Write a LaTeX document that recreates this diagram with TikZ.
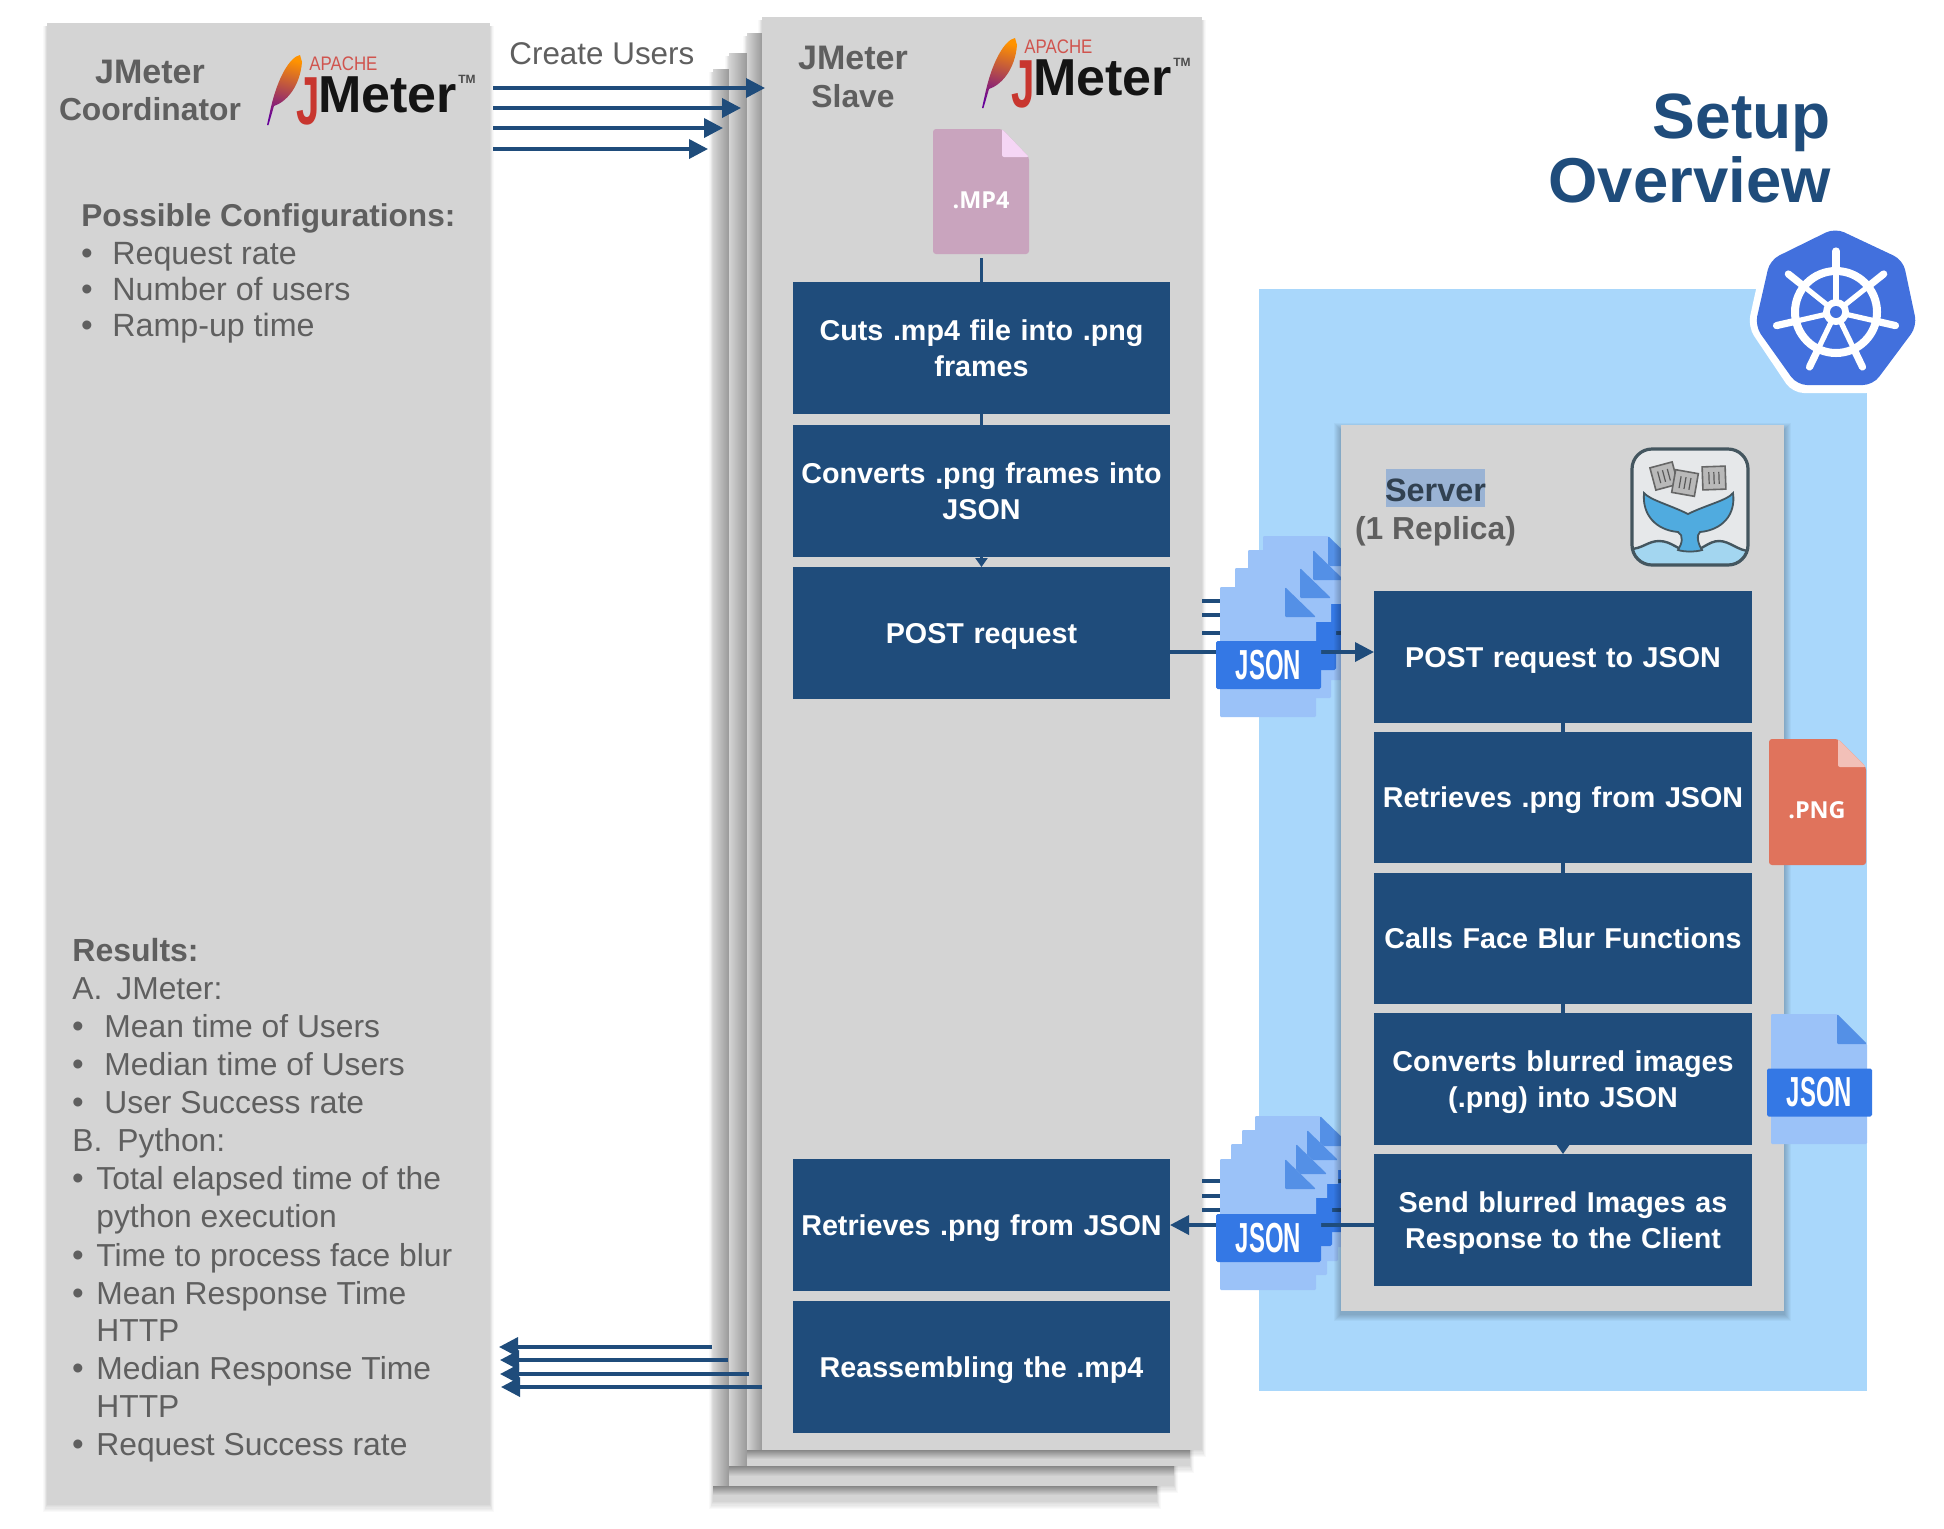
\documentclass[tikz,border=0pt]{standalone}
\usepackage{fontspec}
\setmainfont{Liberation Sans}
\newfontfamily\opensans{Open Sans}
\usetikzlibrary{arrows.meta,calc}
\definecolor{panelc}{HTML}{D4D4D4}
\definecolor{navy}{HTML}{1F4C7B}
\definecolor{skyc}{HTML}{A9D7FB}
\definecolor{txtc}{HTML}{5F5F5F}
\definecolor{pagec}{HTML}{9BC2F8}
\definecolor{foldc}{HTML}{5490E6}
\definecolor{badgec}{HTML}{3478E5}
\definecolor{k8sc}{HTML}{4270DD}
\definecolor{redc}{HTML}{C8362F}
\definecolor{mpc}{HTML}{C9A4BE}
\definecolor{mpf}{HTML}{F5D6F5}
\definecolor{pngc}{HTML}{E0735C}
\definecolor{pngf}{HTML}{F2C0B8}
\definecolor{dockl}{HTML}{44565F}
\definecolor{dockb}{HTML}{E6E8EA}
\definecolor{dockt}{HTML}{50ABDF}
\definecolor{dockw}{HTML}{A3D6F0}
\definecolor{hilite}{HTML}{9AB3D4}
\newcommand{\fsz}[1]{\fontsize{#1}{#1}\selectfont}
\newcommand{\sg}[1]{\raisebox{-5.2pt}[0pt][0pt]{#1}}
\newcommand{\db}[2]{\makebox[0pt]{\raisebox{4pt}[0pt][0pt]{#1}}\makebox[0pt]{\raisebox{-14pt}[0pt][0pt]{#2}}}
\tikzset{
  x=0.5pt,y=-0.5pt,
  panel/.style={fill=panelc,inner sep=0pt,outer sep=0pt},
  flowbox/.style={fill=navy,text=white,inner sep=0pt,outer sep=0pt,align=center,text width=187pt,
     font=\bfseries\fontsize{14.35}{18}\selectfont},
  conn/.style={draw=navy,line width=1.8pt},
  arr/.style={conn,-{Triangle[length=9.5pt,width=9.5pt]}},
  smallarr/.style={conn,-{Triangle[length=4.5pt,width=6pt]}},
  lbl/.style={anchor=base west,inner sep=0pt,text=txtc,font=\fsz{15.9},yshift=-0.6pt},
  lblc/.style={lbl,font=\fsz{16.1}},
  lblb/.style={lbl,font=\bfseries\fsz{16}},
  head/.style={anchor=base,inner sep=0pt,text=txtc,font=\bfseries\fsz{17}},
  heads/.style={head,font=\bfseries\fsz{15.9}},
  bul/.style={anchor=base,inner sep=0pt,text=txtc,font=\fsz{16.6},yshift=-0.6pt},
  badge/.style={fill=badgec,rounded corners=0.8pt,inner sep=0pt,outer sep=0pt,minimum width=52.5pt,minimum height=24pt,text=white},
  filelabel/.style={inner sep=0pt,text=white,font=\opensans\bfseries\fsz{11.7}},
  titlet/.style={anchor=base east,inner sep=0pt,text=navy,font=\bfseries\fsz{31.7}},
}
\newcommand{\rnode}[7]{%
  \pgfmathsetmacro{\rw}{(#5-#3)/2}\pgfmathsetmacro{\rh}{(#6-#4)/2}%
  \pgfmathsetmacro{\rcx}{(#3+#5)/2}\pgfmathsetmacro{\rcy}{(#4+#6)/2}%
  \node[#1,minimum width=\rw pt,minimum height=\rh pt] (#2) at (\rcx,\rcy) {#7};}
% shadow on the blue zone
\newcommand{\softshadow}[4]{%
  \foreach \d in {1,...,7}{\fill[black,opacity=0.03] ({#1-\d},{#2-\d+5}) rectangle ({#3+\d},{#4+\d+3});}}
% faint shadow on white
\newcommand{\paleshadow}[4]{%
  \foreach \d in {1,...,6}{\fill[black,opacity=0.022] ({#1-\d*0.6},{#2+3}) rectangle ({#3+\d*0.6},{#4+\d*1.2});}}
% shadow cast on the panel below: x1,y1 = panel top-left, x0 = left edge below, y2 = panel bottom, x2 = right edge below, yb = bottom edge below
\newcommand{\castshadow}[6]{%
  \shade[left color=panelc,right color=black!28!panelc] (#3,#2) rectangle (#1,#4);
  \shade[top color=black!36!panelc,bottom color=panelc] (#3,#4) rectangle (#5,#6);}
% JSON page: origin at top-left of the page; #3 = height
\newcommand{\jsonpage}[3]{%
  \begin{scope}[shift={(#1,#2)}]
    \fill[pagec,rounded corners=0.6pt] (0,0) -- (65,0) -- (96,30) -- (96,#3) -- (0,#3) -- cycle;
    \fill[foldc,rounded corners=0.6pt] (65,0) -- (96,30) -- (65,30) -- cycle;
    \fill[badgec,rounded corners=0.8pt] (-4,54) rectangle (101,102);
  \end{scope}}
\newcommand{\jsonword}{\scalebox{0.57}[1]{\bfseries\fsz{21}JSON}}
\newcommand{\jlogo}[3]{%
  \begin{scope}[shift={(#1,#2)}]
    \shade[top color=orange!85!yellow,middle color=red!65!black!90,bottom color=violet!80!blue,shading angle=-15]
      (2,-57) .. controls (-8,-55) and (-20,-35) .. (-27,-5) -- (-31,13) -- (-29.5,13) -- (-24,-6)
      .. controls (-12,-10) and (2,-25) .. (4,-50) -- cycle;
    \node[anchor=base west,inner sep=0pt,text=redc!85!white] (#3a) at (11,-42) {\scalebox{0.86}[1]{\fsz{9.8}APACHE}};
    \node[anchor=base west,inner sep=0pt,text=redc] (#3j) at (-2,12) {\scalebox{0.62}[1]{\bfseries\fsz{34}J}};
    \node[anchor=base west,inner sep=0pt,text=black!92] (#3m) at (20,0) {\bfseries\fsz{26}Meter};
    \node[anchor=base west,inner sep=0pt,text=black!70] (#3t) at (160,-29) {\bfseries\fsz{6}TM};
  \end{scope}}
\newcommand{\crate}[3]{%
  \begin{scope}[shift={(#1,#2)},rotate=#3]
    \filldraw[fill=gray!55,draw=black!60,line width=0.8pt] (-11.5,-11.5) rectangle (11.5,11.5);
    \foreach \q in {-5,0,5}{\draw[black!65,line width=0.6pt] (\q,-6) -- (\q,6);}
  \end{scope}}
\begin{document}
\begin{tikzpicture}
\useasboundingbox (0,0) rectangle (1944,1528);
\fill[white] (0,0) rectangle (1944,1528);

% Kubernetes zone
\rnode{fill=skyc,inner sep=0pt,outer sep=0pt}{zone}{1259}{289}{1867}{1391}{}

% Coordinator
\paleshadow{47}{23}{490}{1505}
\rnode{panel}{coord}{47}{23}{490}{1505}{}
\node[head] (jm1) at (150,83) {JMeter};
\node[heads] (jm2) at (150,120) {Coordinator};
\jlogo{298}{112}{la}
\node[lblb,font=\bfseries\fsz{15.8}] (cfg) at (81,225.5) {Possible Configurations:};
\node[bul] (b1) at (87,263) {•}; \node[lblc] (c1) at (112,263) {Request rate};
\node[bul] (b2) at (87,299) {•}; \node[lblc] (c2) at (112,299) {Number of users};
\node[bul] (b3) at (87,335) {•}; \node[lblc] (c3) at (112,335) {Ramp-up time};
\node[lblb] (res) at (72,960) {Results:};
\node[lbl] (ra) at (72,998) {A.}; \node[lbl] (raj) at (116,998) {JMeter:};
\node[bul] (rb1) at (78,1036) {•}; \node[lbl] (r1) at (104,1036) {Mean time of Users};
\node[bul] (rb2) at (78,1074) {•}; \node[lbl] (r2) at (104,1074) {Median time of Users};
\node[bul] (rb3) at (78,1112) {•}; \node[lbl] (r3) at (104,1112) {User Success rate};
\node[lbl] (rbb) at (72,1150) {B.}; \node[lbl] (rbp) at (117,1150) {Python:};
\node[bul] (rb4) at (78,1188) {•}; \node[lbl] (r4) at (96,1188) {Total elapsed time of the};
\node[lbl] (r5) at (96,1226) {python execution};
\node[bul] (rb6) at (78,1265) {•}; \node[lbl] (r6) at (96,1265) {Time to process face blur};
\node[bul] (rb7) at (78,1303) {•}; \node[lbl] (r7) at (96,1303) {Mean Response Time};
\node[lbl] (r8) at (96,1340) {HTTP};
\node[bul] (rb9) at (78,1378) {•}; \node[lbl] (r9) at (96,1378) {Median Response Time};
\node[lbl] (r10) at (96,1416) {HTTP};
\node[bul] (rb11) at (78,1454) {•}; \node[lbl] (r11) at (96,1454) {Request Success rate};
\node[anchor=base west,inner sep=0pt,text=txtc,font=\fsz{15.7}] (create) at (509,64) {Create Users};

% Slave panels, back to front
\paleshadow{713}{69}{1157}{1502}
\rnode{panel}{sl4}{713}{69}{1157}{1502}{}
\paleshadow{729}{53}{1174}{1486}
\castshadow{729}{69}{713}{1486}{1157}{1495}
\rnode{panel}{sl3}{729}{53}{1174}{1486}{}
\paleshadow{747}{33}{1190}{1466}
\castshadow{747}{53}{729}{1466}{1174}{1476}
\rnode{panel}{sl2}{747}{33}{1190}{1466}{}
\paleshadow{762}{17}{1202}{1450}
\castshadow{762}{33}{747}{1450}{1190}{1459}
\rnode{panel}{sl1}{762}{17}{1202}{1450}{}
\node[head] (sj) at (853,69) {JMeter};
\node[heads] (ss) at (853,107) {Slave};
\jlogo{1013}{95}{lb}

% .MP4 file
\fill[mpc,rounded corners=1.5pt] (933,129) -- (1002,129) -- (1029,157) -- (1029,254) -- (933,254) -- cycle;
\fill[mpf,rounded corners=1pt] (1002,129) -- (1029,157) -- (1002,157) -- cycle;
\node[filelabel] (mp4) at (981,200) {.MP4};
\coordinate (mp4end) at (981.5,258);

% slave flow boxes
\rnode{flowbox}{cut}{793}{282}{1170}{414}{\db{Cuts .mp4 file into .png}{frames}}
\rnode{flowbox}{conv}{793}{425}{1170}{557}{\db{Converts .png frames into}{JSON}}
\rnode{flowbox}{post}{793}{567}{1170}{699}{\sg{POST request}}
\rnode{flowbox}{retr}{793}{1159}{1170}{1291}{\sg{Retrieves .png from JSON}}
\rnode{flowbox}{reas}{793}{1301}{1170}{1433}{\sg{Reassembling the .mp4}}
\draw[conn] (mp4end) -- (cut.north);
\draw[conn] (cut.south) -- (conv.north);
\draw[smallarr] (conv.south) -- (post.north);

% coordinates of the flow lines
\coordinate (ja) at (1202,601); \coordinate (jb) at (1202,615); \coordinate (jc) at (1202,633);
\coordinate (jae) at (1341,601); \coordinate (jbe) at (1341,615); \coordinate (jce) at (1341,633);
\coordinate (ka) at (1202,1181); \coordinate (kb) at (1202,1196); \coordinate (kc) at (1202,1210);
\coordinate (kae) at (1341,1181); \coordinate (kbe) at (1341,1196); \coordinate (kce) at (1341,1210);

% upper JSON stack, with the flow lines between its layers
\jsonpage{1263}{536}{130}
\draw[conn] (ja) -- (jae);
\draw[conn] (jb) -- (jbe);
\jsonpage{1248}{550}{130}
\draw[conn] (jc) -- (jce);
\jsonpage{1235}{568}{130}

% lower JSON stack
\jsonpage{1255}{1116}{131}
\draw[conn] (ka) -- (kae);
\draw[conn] (kb) -- (kbe);
\jsonpage{1242}{1130}{131}
\draw[conn] (kc) -- (kce);
\jsonpage{1231}{1144}{131}

% Server panel
\softshadow{1341}{425}{1784}{1311}
\rnode{panel}{srv}{1341}{425}{1784}{1311}{}
\fill[hilite] (1386,469) rectangle (1485,507);
\node[head,font=\bfseries\fsz{16.2},text=black!50!navy!70!gray] (srvt) at (1435.5,501) {Server};
\node[heads] (srvr) at (1435.5,539) {(1 Replica)};

% server flow boxes
\rnode{flowbox}{spost}{1374}{591}{1752}{723}{\sg{POST request to JSON}}
\rnode{flowbox}{sretr}{1374}{732}{1752}{863}{\sg{Retrieves .png from JSON}}
\rnode{flowbox}{scall}{1374}{873}{1752}{1004}{\sg{Calls Face Blur Functions}}
\rnode{flowbox}{sconv}{1374}{1013}{1752}{1145}{\db{Converts blurred images}{(.png) into JSON}}
\rnode{flowbox}{ssend}{1374}{1154}{1752}{1286}{\db{Send blurred Images as}{Response to the Client}}
\draw[conn] (spost.south) -- (sretr.north);
\draw[conn] (sretr.south) -- (scall.north);
\draw[conn] (scall.south) -- (sconv.north);
\draw[smallarr] (sconv.south) -- (ssend.north);

% front flow lines and files
\draw[arr] (post.east |- 0,652) -- (spost.west |- 0,652);
\draw[arr] (ssend.west |- retr.east) -- (retr.east);
\fill[pagec,rounded corners=0.6pt] (1220,587) -- (1285,587) -- (1316,617) -- (1316,717) -- (1220,717) -- cycle;
\fill[foldc,rounded corners=0.6pt] (1285,587) -- (1316,617) -- (1285,617) -- cycle;
\node[badge] (j1) at (1268.5,665) {\jsonword};
\fill[pagec,rounded corners=0.6pt] (1220,1159) -- (1285,1159) -- (1316,1189) -- (1316,1290) -- (1220,1290) -- cycle;
\fill[foldc,rounded corners=0.6pt] (1285,1159) -- (1316,1189) -- (1285,1189) -- cycle;
\node[badge] (j2) at (1268.5,1238) {\jsonword};

% PNG file
\fill[pngc,rounded corners=1.5pt] (1769,739) -- (1838,739) -- (1866,767) -- (1866,865) -- (1769,865) -- cycle;
\fill[pngf,rounded corners=1pt] (1838,739) -- (1866,767) -- (1838,767) -- cycle;
\node[filelabel] (png) at (1817,810) {.PNG};

% single JSON file
\fill[pagec,rounded corners=0.6pt] (1771,1014) -- (1837,1014) -- (1867,1044) -- (1867,1144) -- (1771,1144) -- cycle;
\fill[foldc,rounded corners=0.6pt] (1837,1014) -- (1867,1044) -- (1837,1044) -- cycle;
\node[badge] (j3) at (1819.5,1092.5) {\jsonword};

% Docker icon
\begin{scope}
  \fill[dockb,rounded corners=10pt] (1632,449) rectangle (1748,565);
  \begin{scope}
    \clip[rounded corners=10pt] (1632,449) rectangle (1748,565);
    \fill[dockw] (1630,549) .. controls (1642,549) and (1648,541) .. (1659,541)
       .. controls (1672,541) and (1678,551) .. (1690,551)
       .. controls (1702,551) and (1708,541) .. (1719,541)
       .. controls (1730,541) and (1738,551) .. (1750,551) -- (1750,567) -- (1630,567) -- cycle;
    \draw[dockl,line width=1.2pt] (1630,549) .. controls (1642,549) and (1648,541) .. (1659,541)
       .. controls (1672,541) and (1678,551) .. (1690,551)
       .. controls (1702,551) and (1708,541) .. (1719,541)
       .. controls (1730,541) and (1738,551) .. (1750,551);
  \end{scope}
  \filldraw[fill=dockt,draw=dockl,line width=0.9pt] (1644,493)
     .. controls (1650,500) and (1670,505) .. (1688,514)
     .. controls (1706,505) and (1728,500) .. (1733,493)
     .. controls (1736,515) and (1722,530) .. (1700,532)
     .. controls (1696,535) and (1698,544) .. (1702,550)
     .. controls (1696,552) and (1684,552) .. (1678,550)
     .. controls (1682,544) and (1684,535) .. (1678,532)
     .. controls (1656,530) and (1642,515) .. (1644,493) -- cycle;
  \crate{1664}{476}{15}
  \crate{1685}{483}{-10}
  \crate{1714}{478}{2}
  \draw[dockl,line width=1.6pt,rounded corners=10pt] (1632,449) rectangle (1748,565);
\end{scope}

% Kubernetes logo
\filldraw[fill=white,draw=white,line width=3pt,rounded corners=5pt]
  (1835,224) -- (1906,258) -- (1921,326) -- (1876,390) -- (1794,390) -- (1751,326) -- (1766,258) -- cycle;
\fill[k8sc,rounded corners=5pt] (1835,228) -- (1903,260) -- (1917,326) -- (1873,385) -- (1797,385) -- (1755,326) -- (1770,260) -- cycle;
\coordinate (kc0) at (1836,312);
\draw[white,line width=4pt] (kc0) circle [radius=41];
\foreach \k in {0,...,6}{
  \pgfmathsetmacro{\ang}{-90+\k*360/7}
  \draw[white,line width=2.6pt] (kc0) -- ($(kc0)+(\ang:42)$);
  \draw[white,line width=3.6pt,line cap=round] ($(kc0)+(\ang:42)$) -- ($(kc0)+(\ang:61)$);
}
\fill[white] (kc0) circle [radius=13];
\fill[k8sc] (kc0) circle [radius=6];

% Title
\node[titlet,font=\bfseries\fsz{32}] (t1) at (1831,138) {Setup};
\node[titlet] (t2) at (1831,202) {Overview};

% Create / return arrows
\coordinate (cs1) at (493,88); \coordinate (cs2) at (493,108); \coordinate (cs3) at (493,128); \coordinate (cs4) at (493,149);
\coordinate (ce1) at (765,88); \coordinate (ce2) at (741,108); \coordinate (ce3) at (723,128); \coordinate (ce4) at (708,149);
\draw[arr] (cs1) -- (ce1);
\draw[arr] (cs2) -- (ce2);
\draw[arr] (cs3) -- (ce3);
\draw[arr] (cs4) -- (ce4);
\coordinate (rs1) at (712,1347); \coordinate (rs2) at (728,1360); \coordinate (rs3) at (749,1374); \coordinate (rs4) at (762,1387);
\coordinate (re1) at (499,1347); \coordinate (re2) at (500,1360); \coordinate (re3) at (500,1374); \coordinate (re4) at (501,1387);
\draw[arr] (rs4) -- (re4);
\draw[arr] (rs3) -- (re3);
\draw[arr] (rs2) -- (re2);
\draw[arr] (rs1) -- (re1);
\end{tikzpicture}
\end{document}
